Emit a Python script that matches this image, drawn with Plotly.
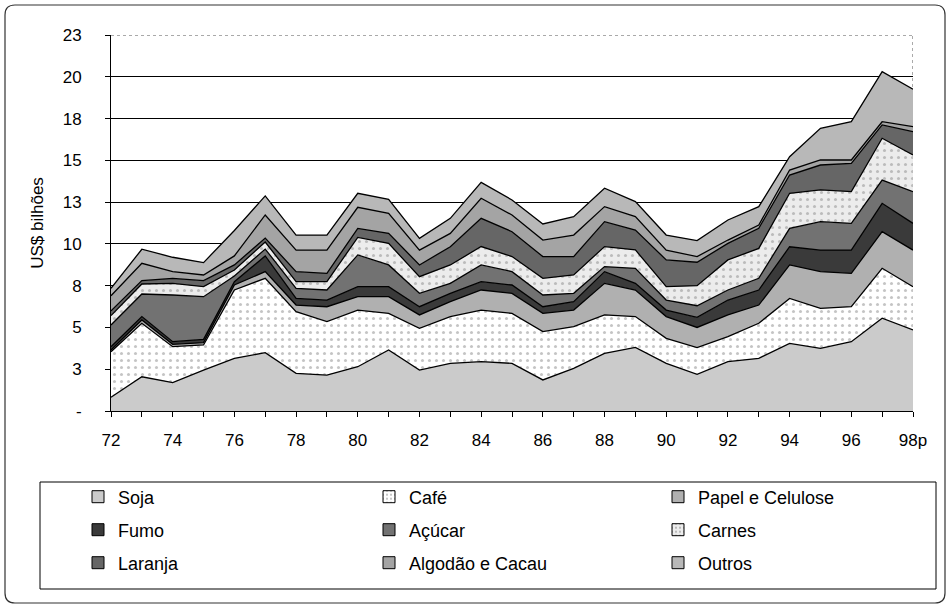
import plotly.graph_objects as go

# Exportações agrícolas, US$ bilhões (leitura do gráfico)
years = list(range(1972, 1999))
year_labels = ['72', '', '74', '', '76', '', '78', '', '80', '', '82', '', '84', '',
               '86', '', '88', '', '90', '', '92', '', '94', '', '96', '', '98p']

soja = [0.82, 2.05, 1.70, 2.45, 3.15, 3.49, 2.25, 2.15, 2.65, 3.65, 2.45, 2.85, 2.95, 2.85,
        1.86, 2.55, 3.45, 3.81, 2.85, 2.20, 2.95, 3.15, 4.05, 3.75, 4.15, 5.55, 4.85]
cafe = [2.73, 3.20, 2.15, 1.50, 4.09, 4.45, 3.69, 3.20, 3.39, 2.19, 2.50, 2.80, 3.09, 2.99,
        2.89, 2.50, 2.30, 1.84, 1.50, 1.60, 1.50, 2.10, 2.69, 2.39, 2.09, 2.99, 2.59]
papel = [0.10, 0.20, 0.14, 0.14, 0.30, 0.40, 0.40, 0.89, 0.80, 1.00, 0.80, 0.89, 1.20, 1.20,
         1.09, 0.99, 1.89, 1.59, 1.30, 1.20, 1.30, 1.09, 2.00, 2.20, 2.00, 2.19, 2.19]
fumo = [0.20, 0.20, 0.16, 0.20, 0.20, 0.94, 0.40, 0.40, 0.60, 0.60, 0.49, 0.50, 0.50, 0.50,
        0.40, 0.50, 0.70, 0.40, 0.39, 0.60, 0.89, 0.90, 1.09, 1.29, 1.39, 1.70, 1.60]
acucar = [1.30, 1.35, 2.79, 2.55, 0.34, 0.41, 0.60, 0.60, 1.90, 1.30, 0.80, 0.60, 1.00, 0.80,
          0.70, 0.50, 0.30, 0.90, 0.60, 0.70, 0.60, 0.70, 1.10, 1.70, 1.60, 1.39, 1.90]
carnes = [0.56, 0.60, 0.70, 0.60, 0.36, 0.42, 0.40, 0.50, 1.05, 1.29, 1.00, 1.10, 1.10, 0.90,
          1.00, 1.10, 1.20, 1.10, 0.80, 1.20, 1.80, 1.79, 2.10, 1.90, 1.90, 2.50, 2.19]
laranja = [0.28, 0.20, 0.30, 0.36, 0.30, 0.24, 0.60, 0.50, 0.54, 0.60, 0.70, 1.09, 1.69, 1.49,
           1.30, 1.10, 1.49, 1.19, 1.60, 1.40, 0.99, 1.20, 1.09, 1.49, 1.69, 0.80, 1.40]
algodao = [0.91, 1.04, 0.40, 0.34, 0.54, 1.38, 1.29, 1.39, 1.26, 1.20, 0.89, 0.80, 1.20, 1.00,
           0.99, 1.29, 0.90, 0.80, 0.59, 0.34, 0.20, 0.20, 0.30, 0.30, 0.20, 0.19, 0.30]
outros = [0.44, 0.84, 0.86, 0.74, 1.52, 1.14, 0.90, 0.90, 0.84, 0.84, 0.70, 0.90, 0.95, 0.90,
          0.96, 1.10, 1.10, 0.90, 0.90, 0.96, 1.20, 1.10, 0.80, 1.90, 2.30, 3.00, 2.23]

y_ticks = [0, 2.5, 5, 7.5, 10, 12.5, 15, 17.5, 20, 22.5]
y_labels = ['-', '3', '5', '8', '10', '13', '15', '18', '20', '23']

FONT = 'Liberation Sans, Arial, sans-serif'

# name, values, fill colour, dotted pattern?
series = [
    ('Soja', soja, '#cbcbcb', False),
    ('Café', cafe, '#ffffff', True),
    ('Papel e Celulose', papel, '#b0b0b0', False),
    ('Fumo', fumo, '#3a3a3a', False),
    ('Açúcar', acucar, '#727272', False),
    ('Carnes', carnes, '#ececec', True),
    ('Laranja', laranja, '#666666', False),
    ('Algodão e Cacau', algodao, '#a4a4a4', False),
    ('Outros', outros, '#b8b8b8', False),
]

# pixel geometry of the page
W, H = 951, 608
ML, MR, MT, MB = 111, 38, 35, 197
PW, PH = W - ML - MR, H - MT - MB


def px(x):
    return (x - ML) / PW


def py(y):
    return (H - MB - y) / PH


fig = go.Figure()

for name, vals, color, dotted in series:
    kw = {}
    if dotted:
        kw['fillpattern'] = dict(shape='.', bgcolor=color, fgcolor='#8a8a8a',
                                 size=7, solidity=0.15)
    fig.add_trace(go.Scatter(
        x=years, y=vals, name=name, stackgroup='one', mode='lines',
        line=dict(color='black', width=1.3), fillcolor=color,
        showlegend=False, **kw
    ))

# legend-only entries, one small legend per cell of the 3x3 grid
col_x = [78, 369, 658]
row_y = [497, 530, 563]
legends = {}
for i, (name, vals, color, dotted) in enumerate(series):
    lg = 'legend' if i == 0 else f'legend{i + 1}'
    marker = dict(color=color, line=dict(color='black', width=1))
    if dotted:
        marker['pattern'] = dict(shape='.', bgcolor=color, fgcolor='#666', size=5, solidity=0.2)
    fig.add_trace(go.Bar(x=[years[0]], y=[0], name=name, marker=marker,
                         showlegend=True, legend=lg, width=0, hoverinfo='skip'))
    legends[lg] = dict(
        x=px(col_x[i % 3]), y=py(row_y[i // 3]),
        xanchor='left', yanchor='middle',
        bgcolor='rgba(0,0,0,0)', borderwidth=0,
        font=dict(family=FONT, size=18, color='black'),
    )

# outer rounded frame
x0, x1, yt, yb = px(5), px(945), py(5), py(603)
rx, ry = 10 / PW, 10 / PH
frame = (f'M{x0 + rx},{yt} L{x1 - rx},{yt} Q{x1},{yt} {x1},{yt - ry} '
         f'L{x1},{yb + ry} Q{x1},{yb} {x1 - rx},{yb} L{x0 + rx},{yb} '
         f'Q{x0},{yb} {x0},{yb + ry} L{x0},{yt - ry} Q{x0},{yt} {x0 + rx},{yt} Z')

shapes = [
    dict(type='path', path=frame, xref='paper', yref='paper',
         line=dict(color='#333', width=1.2)),
    dict(type='rect', xref='paper', yref='paper', x0=px(40), x1=px(936),
         y0=py(482), y1=py(589), line=dict(color='black', width=1)),
    # dotted plot border on top and right
    dict(type='line', xref='x', yref='y', x0=1972, x1=1998, y0=22.5, y1=22.5,
         line=dict(color='white', width=2), layer='below'),
    dict(type='line', xref='x', yref='y', x0=1972, x1=1998, y0=22.5, y1=22.5,
         line=dict(color='#555', width=1, dash='dot'), layer='below'),
    dict(type='line', xref='x', yref='y', x0=1998, x1=1998, y0=0, y1=22.5,
         line=dict(color='#555', width=1, dash='dot'), layer='below'),
]

fig.update_layout(
    width=W, height=H, autosize=False,
    margin=dict(l=ML, r=MR, t=MT, b=MB, pad=0, autoexpand=False),
    paper_bgcolor='white', plot_bgcolor='white',
    font=dict(family=FONT, size=17, color='black'),
    shapes=shapes,
    **legends,
)

fig.update_xaxes(
    type='linear', range=[1972, 1998], tickvals=years, ticktext=year_labels,
    ticks='outside', ticklen=5, tickcolor='black', ticklabelstandoff=9,
    showgrid=False, zeroline=False, showline=True, linecolor='black', linewidth=1,
    tickfont=dict(size=17),
)
fig.update_yaxes(
    type='linear', range=[0, 22.5], tickvals=y_ticks, ticktext=y_labels,
    ticks='outside', ticklen=5, tickcolor='black', ticklabelstandoff=20,
    showgrid=True, gridcolor='black', gridwidth=1, zeroline=False,
    showline=True, linecolor='black', linewidth=1,
    title=dict(text='US$ bilhões', standoff=14, font=dict(size=17)),
    tickfont=dict(size=17),
)

# page body has a default 8px margin; remove it so the figure sits at 0,0
fig.write_html('out.html', config={'displayModeBar': False},
               post_script="document.body.style.margin='0';")
